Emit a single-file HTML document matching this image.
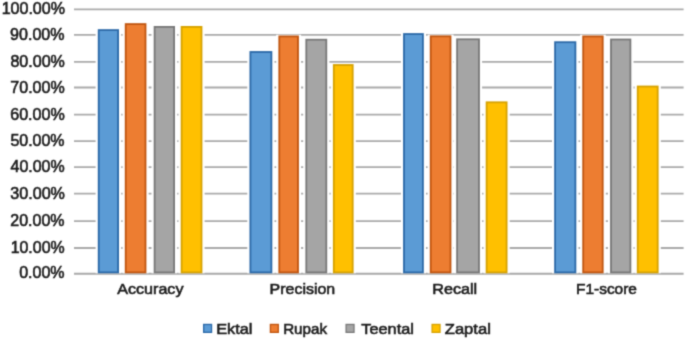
<!DOCTYPE html><html><head><meta charset="utf-8"><style>html,body{margin:0;padding:0;background:#fff;}svg{display:block;}text{font-family:"Liberation Sans",sans-serif;}</style></head><body>
<svg width="685" height="339" viewBox="0 0 685 339">
<defs><filter id="bl" x="0" y="0" width="685" height="339" filterUnits="userSpaceOnUse" color-interpolation-filters="sRGB"><feConvolveMatrix order="3" kernelMatrix="1 4 1 4 16 4 1 4 1" divisor="36" edgeMode="duplicate" preserveAlpha="true"/></filter></defs>
<g filter="url(#bl)">
<rect width="685" height="339" fill="#fff"/>
<line x1="74" x2="683.6" y1="9.35" y2="9.35" stroke="#aaaaaa" stroke-width="1.8"/>
<line x1="74" x2="683.6" y1="34.80" y2="34.80" stroke="#aaaaaa" stroke-width="1.8"/>
<line x1="74" x2="683.6" y1="61.80" y2="61.80" stroke="#aaaaaa" stroke-width="1.8"/>
<line x1="74" x2="683.6" y1="87.50" y2="87.50" stroke="#aaaaaa" stroke-width="1.8"/>
<line x1="74" x2="683.6" y1="114.60" y2="114.60" stroke="#aaaaaa" stroke-width="1.8"/>
<line x1="74" x2="683.6" y1="141.20" y2="141.20" stroke="#aaaaaa" stroke-width="1.8"/>
<line x1="74" x2="683.6" y1="167.10" y2="167.10" stroke="#aaaaaa" stroke-width="1.8"/>
<line x1="74" x2="683.6" y1="193.60" y2="193.60" stroke="#aaaaaa" stroke-width="1.8"/>
<line x1="74" x2="683.6" y1="221.10" y2="221.10" stroke="#aaaaaa" stroke-width="1.8"/>
<line x1="74" x2="683.6" y1="248.00" y2="248.00" stroke="#aaaaaa" stroke-width="1.8"/>
<line x1="74" x2="683.6" y1="273.85" y2="273.85" stroke="#a8a8a8" stroke-width="2.0"/>
<rect x="95.60" y="28.40" width="25.60" height="244.90" fill="#fff"/>
<rect x="122.60" y="22.40" width="26.00" height="250.90" fill="#fff"/>
<rect x="151.50" y="25.20" width="25.70" height="248.10" fill="#fff"/>
<rect x="178.50" y="25.20" width="26.10" height="248.10" fill="#fff"/>
<rect x="247.30" y="50.30" width="27.20" height="223.00" fill="#fff"/>
<rect x="276.20" y="34.70" width="24.90" height="238.60" fill="#fff"/>
<rect x="303.20" y="38.00" width="26.20" height="235.30" fill="#fff"/>
<rect x="330.70" y="63.30" width="25.10" height="210.00" fill="#fff"/>
<rect x="400.90" y="32.35" width="25.10" height="240.95" fill="#fff"/>
<rect x="427.60" y="34.60" width="26.00" height="238.70" fill="#fff"/>
<rect x="454.00" y="37.60" width="28.10" height="235.70" fill="#fff"/>
<rect x="483.50" y="100.60" width="26.20" height="172.70" fill="#fff"/>
<rect x="552.00" y="40.50" width="26.50" height="232.80" fill="#fff"/>
<rect x="580.10" y="34.70" width="25.70" height="238.60" fill="#fff"/>
<rect x="607.90" y="37.80" width="25.60" height="235.50" fill="#fff"/>
<rect x="634.60" y="84.80" width="26.20" height="188.50" fill="#fff"/>
<rect x="98.70" y="30.10" width="19.40" height="242.30" fill="#5b9bd5" stroke="#2b69a8" stroke-width="1.8"/>
<rect x="125.70" y="24.10" width="19.80" height="248.30" fill="#ed7d31" stroke="#c0550f" stroke-width="1.8"/>
<rect x="154.60" y="26.90" width="19.50" height="245.50" fill="#a5a5a5" stroke="#787878" stroke-width="1.8"/>
<rect x="181.60" y="26.90" width="19.90" height="245.50" fill="#ffc000" stroke="#d6a200" stroke-width="1.8"/>
<rect x="250.40" y="52.00" width="21.00" height="220.40" fill="#5b9bd5" stroke="#2b69a8" stroke-width="1.8"/>
<rect x="279.30" y="36.40" width="18.70" height="236.00" fill="#ed7d31" stroke="#c0550f" stroke-width="1.8"/>
<rect x="306.30" y="39.70" width="20.00" height="232.70" fill="#a5a5a5" stroke="#787878" stroke-width="1.8"/>
<rect x="333.80" y="65.00" width="18.90" height="207.40" fill="#ffc000" stroke="#d6a200" stroke-width="1.8"/>
<rect x="404.00" y="34.05" width="18.90" height="238.35" fill="#5b9bd5" stroke="#2b69a8" stroke-width="1.8"/>
<rect x="430.70" y="36.30" width="19.80" height="236.10" fill="#ed7d31" stroke="#c0550f" stroke-width="1.8"/>
<rect x="457.10" y="39.30" width="21.90" height="233.10" fill="#a5a5a5" stroke="#787878" stroke-width="1.8"/>
<rect x="486.60" y="102.30" width="20.00" height="170.10" fill="#ffc000" stroke="#d6a200" stroke-width="1.8"/>
<rect x="555.10" y="42.20" width="20.30" height="230.20" fill="#5b9bd5" stroke="#2b69a8" stroke-width="1.8"/>
<rect x="583.20" y="36.40" width="19.50" height="236.00" fill="#ed7d31" stroke="#c0550f" stroke-width="1.8"/>
<rect x="611.00" y="39.50" width="19.40" height="232.90" fill="#a5a5a5" stroke="#787878" stroke-width="1.8"/>
<rect x="637.70" y="86.50" width="20.00" height="185.90" fill="#ffc000" stroke="#d6a200" stroke-width="1.8"/>
<rect x="203.65" y="324.45" width="7.90" height="7.90" fill="#5b9bd5" stroke="#2b69a8" stroke-width="1.3"/>
<rect x="270.40" y="324.45" width="7.90" height="7.90" fill="#ed7d31" stroke="#c0550f" stroke-width="1.3"/>
<rect x="346.10" y="324.45" width="7.90" height="7.90" fill="#a5a5a5" stroke="#787878" stroke-width="1.3"/>
<rect x="432.10" y="324.45" width="7.90" height="7.90" fill="#ffc000" stroke="#d6a200" stroke-width="1.3"/>
<g fill="#1c1c1c" stroke="#1c1c1c" stroke-width="0.6">
<text x="1.67" y="14.43" font-size="16.0" textLength="63.31" lengthAdjust="spacingAndGlyphs">100.00%</text>
<text x="10.13" y="40.23" font-size="16.0" textLength="54.36" lengthAdjust="spacingAndGlyphs">90.00%</text>
<text x="10.41" y="67.03" font-size="16.0" textLength="54.45" lengthAdjust="spacingAndGlyphs">80.00%</text>
<text x="10.35" y="92.73" font-size="16.0" textLength="54.36" lengthAdjust="spacingAndGlyphs">70.00%</text>
<text x="10.21" y="120.28" font-size="16.0" textLength="54.61" lengthAdjust="spacingAndGlyphs">60.00%</text>
<text x="10.41" y="146.43" font-size="16.0" textLength="54.14" lengthAdjust="spacingAndGlyphs">50.00%</text>
<text x="10.60" y="172.33" font-size="16.0" textLength="54.06" lengthAdjust="spacingAndGlyphs">40.00%</text>
<text x="10.28" y="198.83" font-size="16.0" textLength="54.67" lengthAdjust="spacingAndGlyphs">30.00%</text>
<text x="10.34" y="226.33" font-size="16.0" textLength="54.23" lengthAdjust="spacingAndGlyphs">20.00%</text>
<text x="10.70" y="253.23" font-size="16.0" textLength="53.92" lengthAdjust="spacingAndGlyphs">10.00%</text>
<text x="19.19" y="278.33" font-size="16.0" textLength="45.43" lengthAdjust="spacingAndGlyphs">0.00%</text>
<text x="117.21" y="294.20" font-size="15.5" textLength="66.25" lengthAdjust="spacingAndGlyphs">Accuracy</text>
<text x="269.55" y="294.20" font-size="15.5" textLength="65.69" lengthAdjust="spacingAndGlyphs">Precision</text>
<text x="432.28" y="294.20" font-size="15.5" textLength="44.83" lengthAdjust="spacingAndGlyphs">Recall</text>
<text x="575.97" y="294.20" font-size="15.5" textLength="60.98" lengthAdjust="spacingAndGlyphs">F1-score</text>
<text x="216.20" y="333.90" font-size="15.5" textLength="36.29" lengthAdjust="spacingAndGlyphs">Ektal</text>
<text x="283.15" y="333.90" font-size="15.5" textLength="43.91" lengthAdjust="spacingAndGlyphs">Rupak</text>
<text x="361.25" y="333.90" font-size="15.5" textLength="52.63" lengthAdjust="spacingAndGlyphs">Teental</text>
<text x="444.75" y="333.90" font-size="15.5" textLength="46.14" lengthAdjust="spacingAndGlyphs">Zaptal</text>
</g>
</g>
</svg></body></html>
